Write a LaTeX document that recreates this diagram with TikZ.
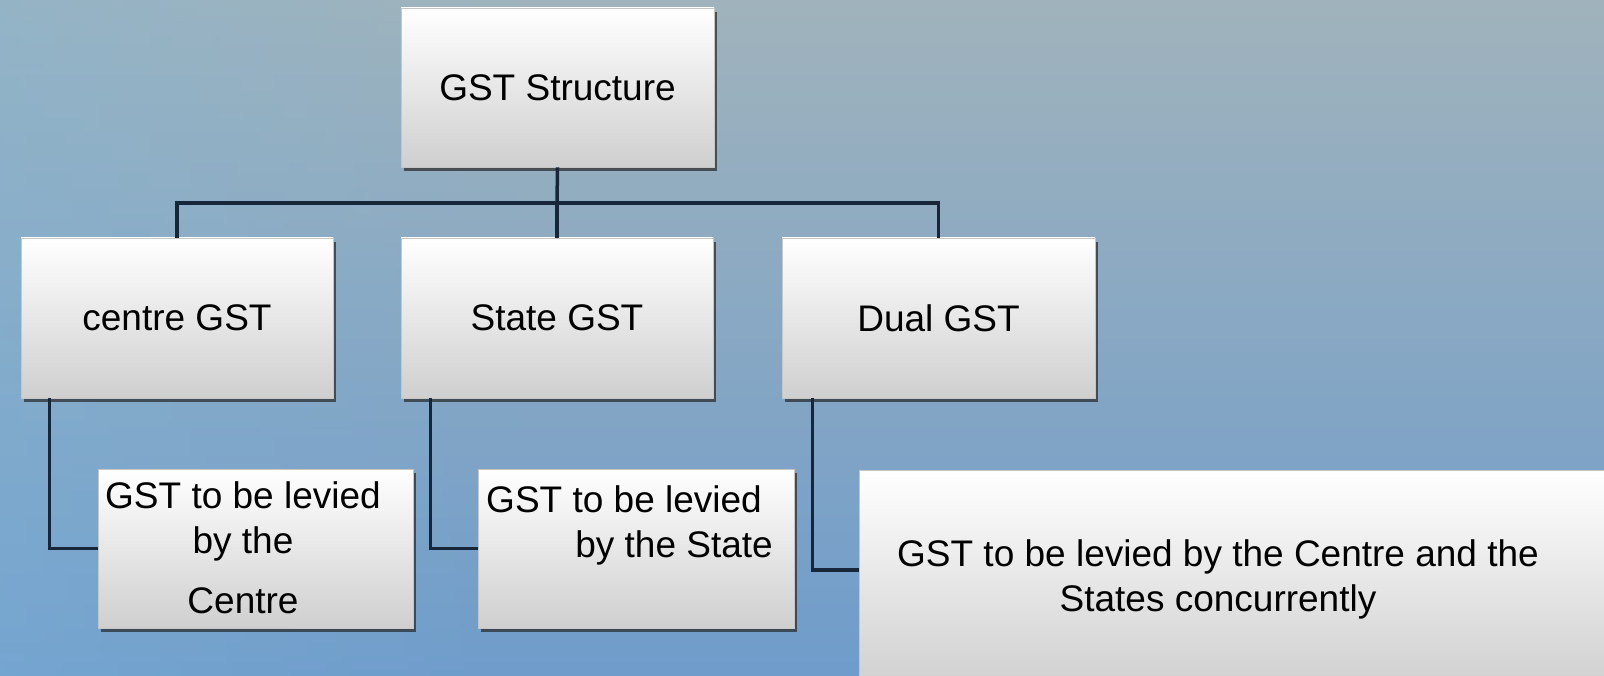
\documentclass[tikz,border=0pt]{standalone}
\usepackage{fontspec}
\setmainfont{Liberation Sans}
\definecolor{FondoArriba}{HTML}{A0B3BC}
\definecolor{FondoAbajo}{HTML}{6F9CCB}
\definecolor{FondoIzquierda}{HTML}{7FB6DA}
\definecolor{Conector}{HTML}{18263A}
\definecolor{CajaAbajo}{HTML}{CFCFCF}
\usetikzlibrary{shadows, fadings}
\tikzfading[name=desvanecer, left color=transparent!0, right color=transparent!100]
\tikzset{
    caja/.style={
        draw=gray!45, line width=0.6pt,
        top color=white, middle color=white!85!CajaAbajo, bottom color=CajaAbajo,
        drop shadow={shadow xshift=2.5pt, shadow yshift=-4pt, opacity=0.7, fill=black!85},
        inner sep=0pt, font=\fontsize{37}{45}\selectfont
    },
    texto/.style={font=\fontsize{37}{45}\selectfont, inner sep=0pt},
    conector/.style={draw=Conector, line width=3.5pt}
}

\begin{document}
\begin{tikzpicture}[x=1pt, y=-1pt]

% Fondo degradado
\useasboundingbox (0,0) rectangle (1604,676);
\clip (0,0) rectangle (1604,676);
\shade[top color=FondoArriba, bottom color=FondoAbajo] (0,0) rectangle (1604,676);
\fill[FondoIzquierda, opacity=0.35, path fading=desvanecer] (0,0) rectangle (520,676);

% Cajas
\node[caja, minimum width=313pt, minimum height=159pt] (gst) at (557.5, 87.5) {GST Structure};
\node[caja, minimum width=312pt, minimum height=160pt] (centro) at (177, 318) {centre GST};
\node[caja, minimum width=312pt, minimum height=160pt] (estado) at (557, 318) {State GST};
\node[caja, minimum width=313pt, minimum height=160pt] (dual) at (938.5, 318) {Dual GST};
\node[caja, minimum width=315pt, minimum height=159pt] (porcentro) at (255.5, 548.5) {};
\node[caja, minimum width=316pt, minimum height=159pt] (porestado) at (636, 548.5) {};
\node[caja, minimum width=761pt, minimum height=220pt] (pordual) at (1239.5, 580) {};

% Textos de las cajas de abajo
\node[texto, align=center] (tcentro) at (243, 548) {GST to be levied\\by the\\[15pt]Centre};
\node[texto, align=right, anchor=east] (testado) at (773, 525) {GST to be levied\kern11pt\mbox{}\\by the State};
\node[texto, align=center] (tdual) at (1218, 579) {GST to be levied by the Centre and the\\States concurrently};

% Conectores
\coordinate (bus) at (557, 203);
\draw[conector] (gst.south) -- (bus);
\draw[conector] (centro.north) |- (bus) -| (dual.north);
\draw[conector] (bus) -- (estado.north);
\draw[conector] ([xshift=29pt]centro.south west) |- (porcentro.west);
\draw[conector] ([xshift=30pt]estado.south west) |- (porestado.west);
\draw[conector] ([xshift=31pt]dual.south west) |- ([yshift=10pt]pordual.west);

\end{tikzpicture}
\end{document}
